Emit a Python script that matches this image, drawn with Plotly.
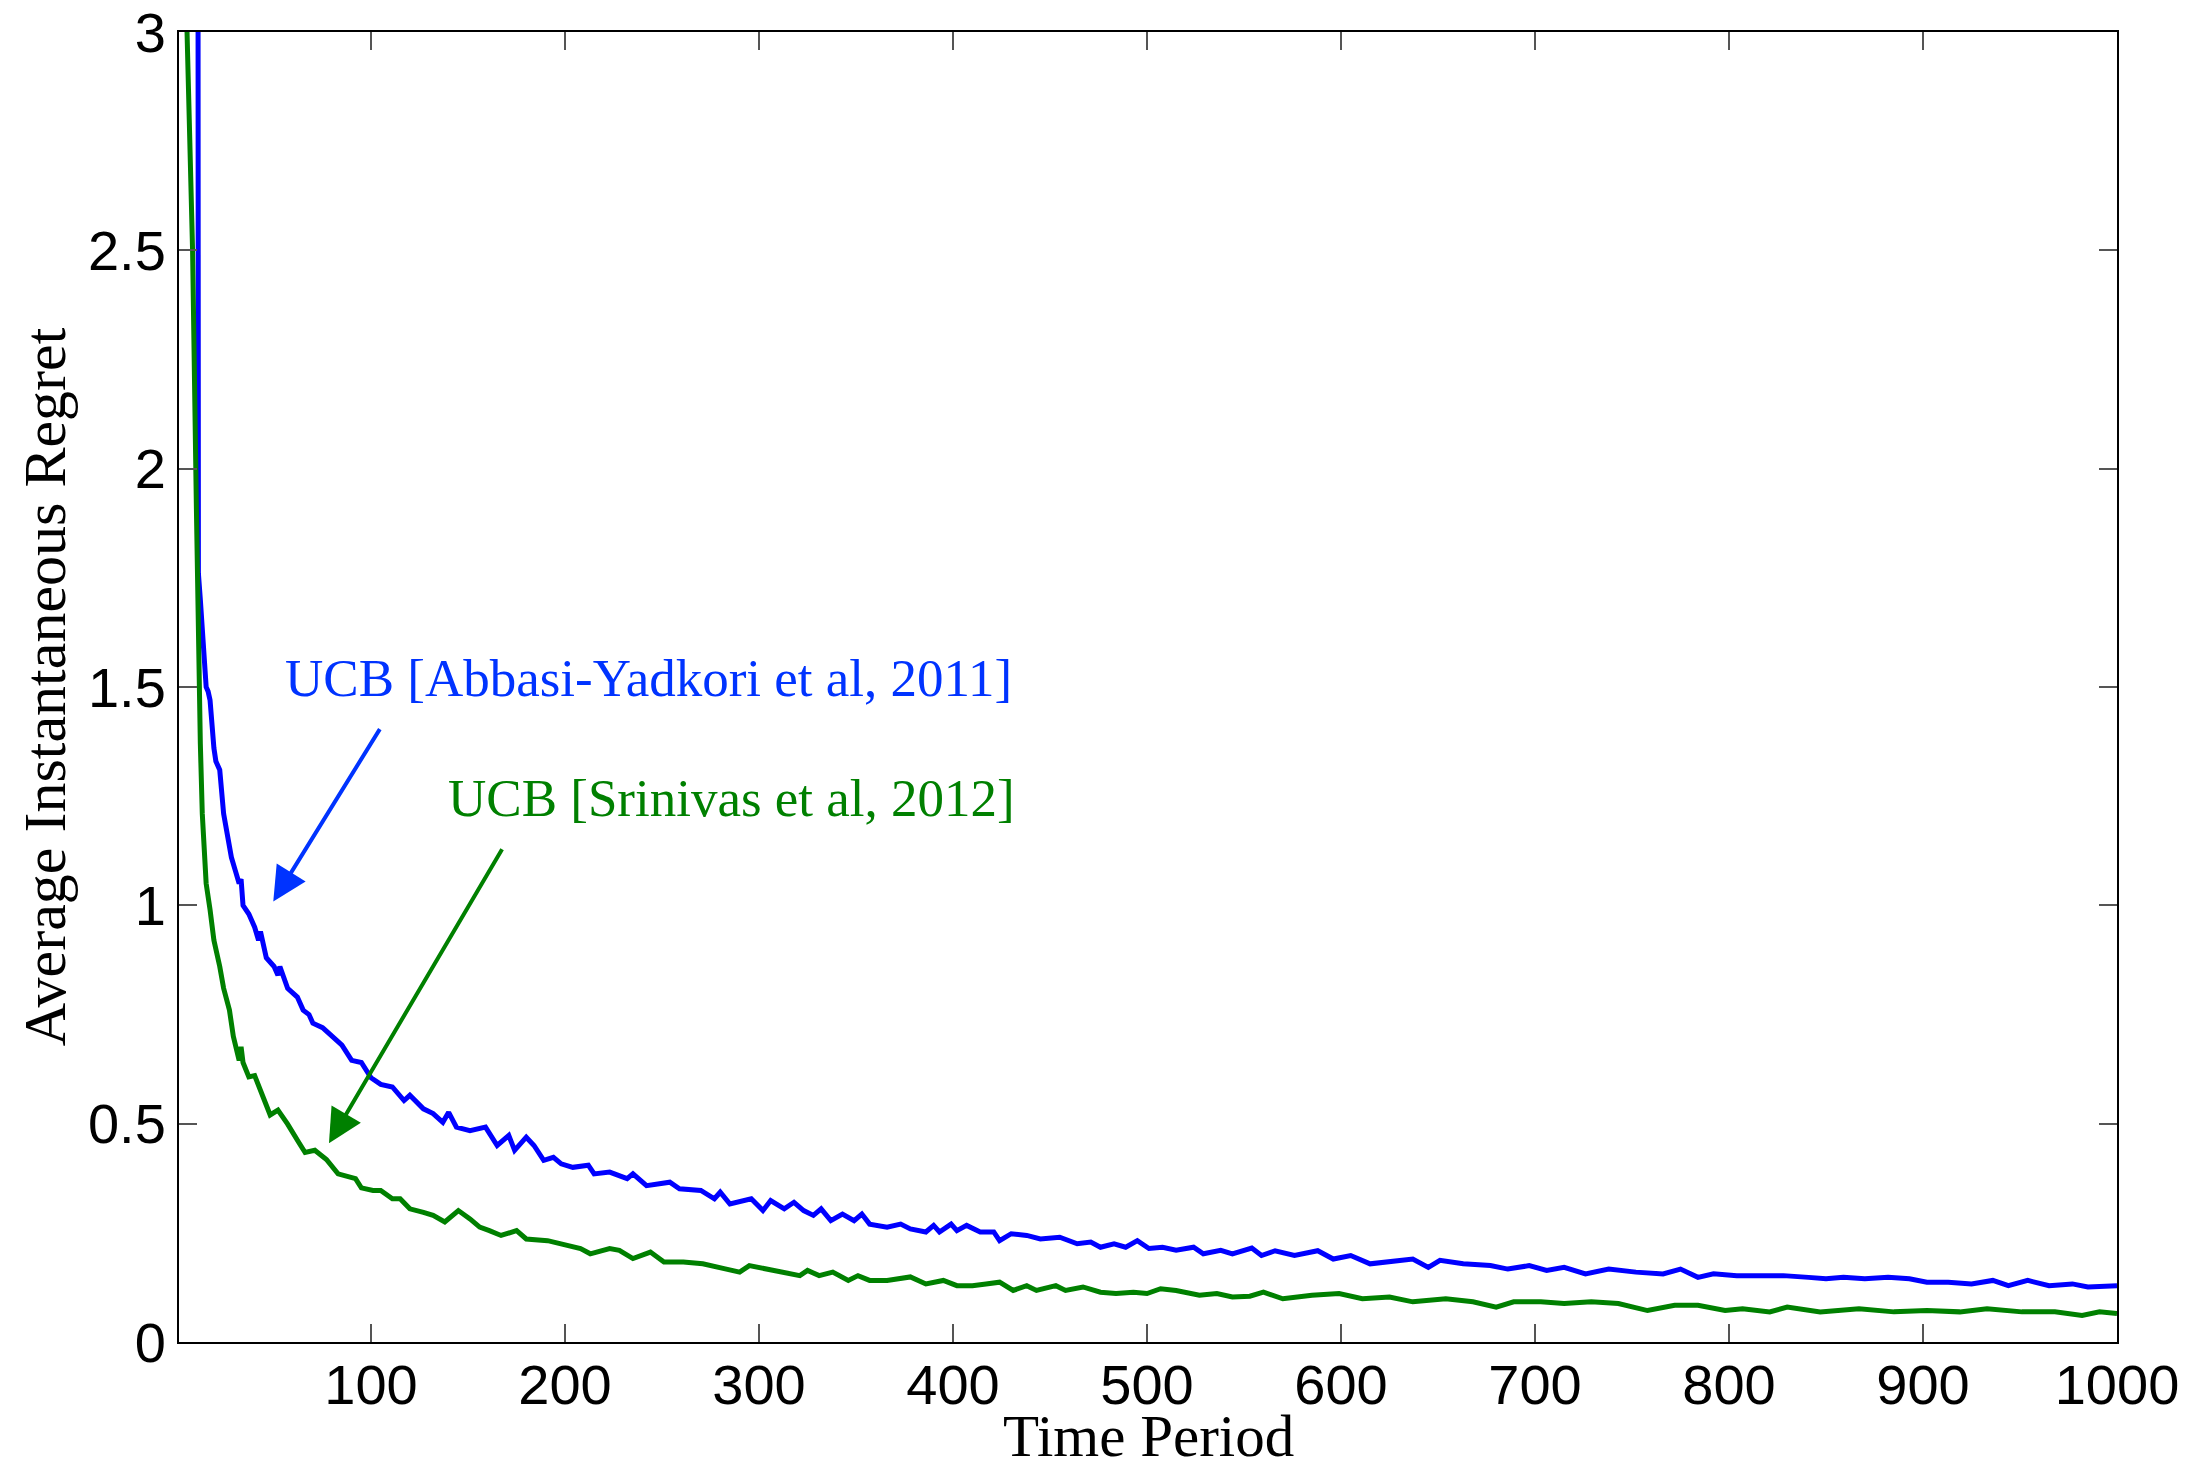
import plotly.graph_objects as go

# ---- data ----
blue_t = [10, 11, 12, 14, 15, 16, 17, 19, 20, 22, 24, 26, 28, 30, 32, 33, 34, 37, 40, 42, 43, 46, 50, 52, 53, 57,
          62, 65, 68, 70, 75, 80, 85, 90, 95, 100, 105, 111, 117, 120, 127, 132, 137, 140, 144, 151, 159, 165,
          171, 174, 180, 184, 189, 194, 198, 204, 212, 215, 223, 232, 235, 242, 254, 259, 270, 277, 280, 285,
          296, 302, 306, 313, 318, 323, 328, 332, 337, 343, 349, 353, 357, 366, 373, 378, 386, 390, 393, 399,
          402, 407, 414, 421, 424, 430, 438, 445, 455, 464, 471, 476, 483, 489, 495, 501, 508, 515, 524, 529,
          538, 544, 554, 559, 566, 576, 588, 596, 605, 615, 628, 637, 645, 651, 663, 677, 686, 697, 706, 715,
          726, 738, 752, 766, 775, 784, 792, 804, 815, 828, 841, 850, 859, 870, 882, 893, 902, 913, 925, 936,
          944, 954, 965, 977, 985, 994, 1000]
blue_v = [9.0, 1.76, 1.70, 1.58, 1.50, 1.49, 1.47, 1.36, 1.33, 1.31, 1.21, 1.16, 1.11, 1.08, 1.05, 1.06, 1.00,
          0.98, 0.95, 0.92, 0.94, 0.88, 0.86, 0.84, 0.86, 0.81, 0.79, 0.76, 0.75, 0.73, 0.72, 0.70, 0.68, 0.645,
          0.64, 0.605, 0.59, 0.584, 0.553, 0.565, 0.534, 0.523, 0.503, 0.526, 0.492, 0.484, 0.492, 0.45, 0.473,
          0.439, 0.469, 0.45, 0.416, 0.423, 0.408, 0.40, 0.405, 0.385, 0.389, 0.374, 0.385, 0.358, 0.366, 0.351,
          0.347, 0.328, 0.343, 0.316, 0.328, 0.301, 0.324, 0.305, 0.32, 0.301, 0.29, 0.305, 0.278, 0.293, 0.278,
          0.293, 0.27, 0.263, 0.27, 0.259, 0.252, 0.267, 0.252, 0.27, 0.255, 0.267, 0.252, 0.252, 0.232, 0.248,
          0.244, 0.236, 0.24, 0.225, 0.229, 0.217, 0.225, 0.217, 0.232, 0.214, 0.217, 0.21, 0.217, 0.202, 0.21,
          0.202, 0.215, 0.198, 0.209, 0.198, 0.209, 0.19, 0.198, 0.179, 0.187, 0.19, 0.171, 0.187, 0.179, 0.175,
          0.167, 0.175, 0.164, 0.171, 0.156, 0.167, 0.16, 0.156, 0.167, 0.148, 0.156, 0.152, 0.152, 0.152, 0.148,
          0.145, 0.148, 0.145, 0.148, 0.145, 0.137, 0.137, 0.133, 0.141, 0.129, 0.141, 0.129, 0.133, 0.126,
          0.129, 0.129]

green_t = [4, 5, 8, 10, 11, 12, 13, 15, 17, 19, 22, 24, 27, 29, 32, 33, 34, 37, 40, 44, 48, 52, 57, 63, 66, 71,
           77, 83, 92, 95, 101, 105, 111, 115, 120, 127, 132, 138, 145, 151, 156, 161, 167, 175, 180, 191, 198,
           208, 213, 223, 228, 235, 244, 251, 261, 271, 282, 290, 295, 304, 311, 321, 325, 331, 338, 346, 351,
           357, 366, 378, 386, 395, 402, 410, 417, 424, 431, 438, 443, 453, 458, 467, 476, 484, 493, 500, 507,
           515, 527, 536, 544, 553, 560, 570, 585, 599, 611, 625, 637, 654, 668, 680, 689, 703, 715, 729, 743,
           758, 772, 784, 798, 807, 821, 830, 847, 867, 885, 902, 919, 933, 951, 968, 982, 991, 1000]
green_v = [3.2, 3.0, 2.5, 1.9, 1.55, 1.37, 1.21, 1.05, 0.99, 0.92, 0.86, 0.81, 0.76, 0.70, 0.645, 0.676, 0.64,
           0.607, 0.61, 0.564, 0.52, 0.531, 0.499, 0.455, 0.434, 0.439, 0.418, 0.385, 0.374, 0.353, 0.347, 0.347,
           0.328, 0.328, 0.305, 0.297, 0.29, 0.275, 0.301, 0.282, 0.263, 0.255, 0.244, 0.255, 0.236, 0.232,
           0.225, 0.214, 0.202, 0.214, 0.21, 0.191, 0.206, 0.183, 0.183, 0.179, 0.168, 0.16, 0.175, 0.168, 0.16,
           0.152, 0.164, 0.152, 0.16, 0.141, 0.152, 0.141, 0.141, 0.149, 0.133, 0.141, 0.129, 0.129, 0.133,
           0.137, 0.118, 0.129, 0.118, 0.129, 0.118, 0.126, 0.114, 0.111, 0.114, 0.111, 0.122, 0.118, 0.107,
           0.111, 0.103, 0.105, 0.114, 0.099, 0.107, 0.111, 0.099, 0.103, 0.092, 0.099, 0.092, 0.08, 0.092,
           0.092, 0.088, 0.092, 0.088, 0.072, 0.084, 0.084, 0.072, 0.076, 0.069, 0.08, 0.069, 0.076, 0.069,
           0.072, 0.069, 0.076, 0.069, 0.069, 0.061, 0.069, 0.065]

x_ticks = [100, 200, 300, 400, 500, 600, 700, 800, 900, 1000]
y_ticks = [0, 0.5, 1, 1.5, 2, 2.5, 3]
y_tick_labels = ["0", "0.5", "1", "1.5", "2", "2.5", "3"]

label_blue = "UCB [Abbasi-Yadkori et al, 2011]"
label_green = "UCB [Srinivas et al, 2012]"
x_title = "Time Period"
y_title = "Average Instantaneous Regret"

BLUE_LINE = "#0000ff"
GREEN_LINE = "#008000"
BLUE_TEXT = "#0033ff"
GREEN_TEXT = "#008000"
SERIF = "Liberation Serif, Times New Roman, serif"
SANS = "Liberation Sans, Arial, Helvetica, sans-serif"

fig = go.Figure()
fig.add_trace(go.Scatter(x=blue_t, y=blue_v, mode="lines",
                         line=dict(color=BLUE_LINE, width=5), showlegend=False))
fig.add_trace(go.Scatter(x=green_t, y=green_v, mode="lines",
                         line=dict(color=GREEN_LINE, width=5), showlegend=False))

axis_common = dict(showline=True, linecolor="black", linewidth=2, mirror="allticks",
                   ticks="inside", ticklen=18, tickwidth=2, tickcolor="#555555",
                   showgrid=False, zeroline=False, ticklabeloverflow="allow", automargin=False,
                   tickfont=dict(family=SANS, size=56, color="black"))

fig.update_xaxes(range=[1, 1000], tickvals=x_ticks, ticklabelstandoff=-7, **axis_common)
fig.update_yaxes(range=[0, 3], tickvals=y_ticks, ticktext=y_tick_labels, **axis_common)

annotations = [
    # arrows
    dict(x=49.6, y=1.009, ax=105.0, ay=1.407, xref="x", yref="y", axref="x", ayref="y",
         text="", showarrow=True, arrowhead=2, arrowsize=1.7, arrowwidth=4, arrowcolor=BLUE_TEXT),
    dict(x=78.3, y=0.455, ax=168.0, ay=1.132, xref="x", yref="y", axref="x", ayref="y",
         text="", showarrow=True, arrowhead=2, arrowsize=1.7, arrowwidth=4, arrowcolor=GREEN_TEXT),
    # labels
    dict(x=54.6, y=1.521, xref="x", yref="y", text=label_blue, showarrow=False,
         xanchor="left", yanchor="middle", font=dict(family=SERIF, size=53, color=BLUE_TEXT)),
    dict(x=138.6, y=1.2466, xref="x", yref="y", text=label_green, showarrow=False,
         xanchor="left", yanchor="middle", font=dict(family=SERIF, size=53, color=GREEN_TEXT)),
    # axis titles
    dict(x=0.5, y=-0.0721, xref="paper", yref="paper", text=x_title, showarrow=False,
         xanchor="center", yanchor="middle", font=dict(family=SERIF, size=59, color="black")),
    dict(x=-0.069, y=0.5, xref="paper", yref="paper", text=y_title, showarrow=False, textangle=-90,
         xanchor="center", yanchor="middle", font=dict(family=SERIF, size=60, color="black")),
]

# the page body adds an 8px offset, so the figure is 8px smaller and its margins shifted
fig.update_layout(width=2196, height=1456,
                  margin=dict(l=171, r=87, t=24, b=122),
                  paper_bgcolor="white", plot_bgcolor="white",
                  annotations=annotations)

fig.write_html("out.html")
